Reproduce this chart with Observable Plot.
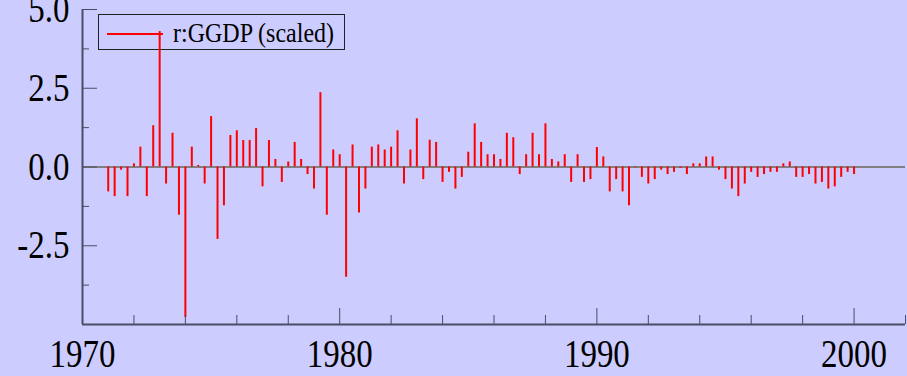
<!DOCTYPE html>
<html>
<head>
<meta charset="utf-8">
<script src="https://cdn.jsdelivr.net/npm/d3@7"></script>
<script src="https://cdn.jsdelivr.net/npm/@observablehq/plot@0.6"></script>
<style>
  html, body { margin: 0; padding: 0; background: #ccccff; }
  #wrap { position: relative; width: 907px; height: 376px; overflow: hidden; background: #ccccff; }
  #wrap svg { position: absolute; left: 0; top: 0; z-index: 1; }
  .legend { position: absolute; left: 98px; top: 14px; width: 247px; height: 36px; border: 1px solid #222; box-sizing: border-box; z-index: 0; }
  .legend .swatch { position: absolute; left: 8px; top: 18px; width: 56px; height: 2px; background: #ff0000; }
  .legend .label { position: absolute; left: 74px; top: 3px; font-family: "Liberation Serif", "Times New Roman", serif; font-size: 24px; line-height: 30px; color: #000; display: inline-block; transform: scaleY(1.1); transform-origin: center; white-space: nowrap; }
</style>
</head>
<body>
<div id="wrap"></div>
<script>
// ---- data ----
const startYear = 1971;            // first quarter shown (1971 Q1)
const seriesLabel = "r:GGDP (scaled)";
const values = [
  -0.79, -0.94, -0.10, -0.94,  0.10,  0.63, -0.94,  1.31,  4.30, -0.54,
   1.07, -1.53, -4.78,  0.63,  0.05, -0.54,  1.60, -2.30, -1.23,  1.00,
   1.15,  0.84,  0.84,  1.22, -0.63,  0.84,  0.24, -0.49,  0.16,  0.78,
   0.24, -0.24, -0.70,  2.36, -1.53,  0.54,  0.39, -3.50,  0.70, -1.46,
  -0.70,  0.63,  0.70,  0.54,  0.63,  1.15, -0.54,  0.54,  1.53, -0.40,
   0.85,  0.78, -0.49, -0.17, -0.70, -0.33,  0.47,  1.37,  0.78,  0.39,
   0.39,  0.24,  1.07,  0.93, -0.24,  0.39,  1.07,  0.39,  1.37,  0.24,
   0.16,  0.39, -0.49,  0.39, -0.49, -0.40,  0.62,  0.32, -0.79, -0.40,
  -0.79, -1.23, -0.03, -0.33, -0.54, -0.40, -0.10, -0.24, -0.17, -0.04,
  -0.24,  0.10,  0.10,  0.32,  0.32, -0.10, -0.40, -0.70, -0.94, -0.54,
  -0.17, -0.33, -0.24, -0.17, -0.17,  0.10,  0.16, -0.33, -0.33, -0.24,
  -0.54, -0.49, -0.70, -0.63, -0.33, -0.17, -0.24
];
const xMajorTicks = [1970, 1980, 1990, 2000];
const xMinorTicks = [1972, 1974, 1976, 1978, 1982, 1984, 1986, 1988, 1992, 1994, 1996, 1998, 2002];
const yMajorTicks = [-2.5, 0, 2.5, 5];
const yMinorTicks = [-3.75, -1.25, 1.25, 3.75];
const xDomain = [1970, 2002];
const yDomain = [-5, 5];

// ---- build ----
const data = values.map((v, i) => ({date: startYear + i / 4, value: v}));
const axisColor = "#4c4c66";
const font = "'Liberation Serif', 'Times New Roman', serif";

const plot = Plot.plot({
  width: 907,
  height: 376,
  marginLeft: 82,
  marginRight: 2,
  marginTop: 9,
  marginBottom: 52,
  style: {background: "transparent", fontFamily: font, color: "#000", overflow: "hidden"},
  x: {domain: xDomain},
  y: {domain: yDomain},
  marks: [
    Plot.ruleY([0], {stroke: "#808080", strokeWidth: 2}),
    Plot.ruleX(data, {x: "date", y1: 0, y2: "value", stroke: "#ff0000", strokeWidth: 2}),
    Plot.ruleX([xDomain[0]], {stroke: axisColor, strokeWidth: 2}),
    Plot.ruleY([yDomain[0]], {stroke: axisColor, strokeWidth: 2}),
    Plot.axisY({ticks: yMajorTicks, tickSize: -15, fill: "none", stroke: axisColor, label: null}),
    Plot.axisY({ticks: yMinorTicks, tickSize: -7, fill: "none", stroke: axisColor, label: null}),
    Plot.axisY({ticks: yMajorTicks, tickSize: 0, tickPadding: 13, tickFormat: d => d.toFixed(1), fontSize: 33, fill: "#000", label: null}),
    Plot.axisX({ticks: xMajorTicks, tickSize: -16, fill: "none", stroke: axisColor, label: null}),
    Plot.axisX({ticks: xMinorTicks, tickSize: -9, fill: "none", stroke: axisColor, label: null}),
    Plot.axisX({ticks: xMajorTicks, tickSize: 0, tickPadding: 14.5, tickFormat: d => String(d), fontSize: 33, fill: "#000", label: null})
  ]
});

// taller glyphs, as in the reference (keep Plot's own positions and em offsets)
plot.querySelectorAll("text").forEach(t => {
  const tr = t.getAttribute("transform");
  if (tr) t.setAttribute("transform", `${tr} scale(1,1.2)`);
});

const wrap = document.getElementById("wrap");
const legend = document.createElement("div");
legend.className = "legend";
legend.innerHTML = `<div class="swatch"></div><span class="label"></span>`;
legend.querySelector(".label").textContent = seriesLabel;
wrap.appendChild(legend);
wrap.appendChild(plot);
</script>
</body>
</html>
